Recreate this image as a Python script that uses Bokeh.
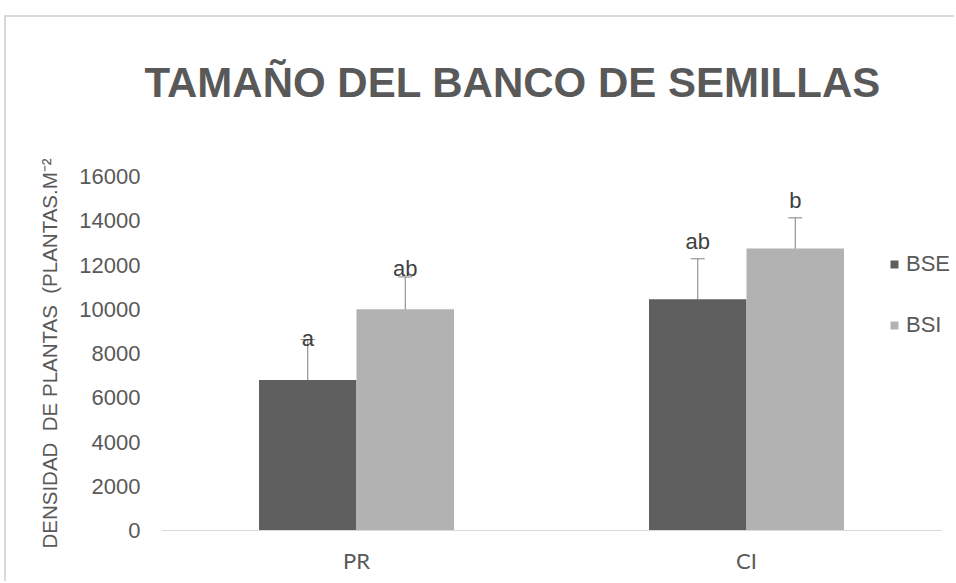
from bokeh.plotting import figure
from bokeh.models import (ColumnDataSource, FactorRange, Range1d, Whisker, TeeHead,
                          FixedTicker, NumeralTickFormatter, Legend, Title)
from bokeh.transform import dodge
from bokeh.core.properties import value
from bokeh.embed import file_html
from bokeh.resources import INLINE

# --- data -------------------------------------------------------------
categories = ["PR", "CI"]
series_names = ["BSE", "BSI"]
bse_mean = [6800, 10450]
bsi_mean = [10000, 12750]
bse_err = [1830, 1830]
bsi_err = [1460, 1380]
bse_letters = ["a", "ab"]
bsi_letters = ["ab", "b"]
y_ticks = [0, 2000, 4000, 6000, 8000, 10000, 12000, 14000, 16000]

TITLE = "TAMAÑO DEL BANCO DE SEMILLAS"
Y_LABEL = "DENSIDAD\u00a0 DE PLANTAS\u00a0 (PLANTAS.M\u207b\u00b2"

# --- styling ----------------------------------------------------------
DARK = "#5f5f5f"
LIGHT = "#b2b2b2"
TEXT = "#595959"
ERR = "#7f7f7f"
FONT = "Liberation Sans"

src = ColumnDataSource(dict(
    cat=categories,
    bse=bse_mean,
    bsi=bsi_mean,
    bse_hi=[m + e for m, e in zip(bse_mean, bse_err)],
    bse_lo=[m - e for m, e in zip(bse_mean, bse_err)],
    bsi_hi=[m + e for m, e in zip(bsi_mean, bsi_err)],
    bsi_lo=[m - e for m, e in zip(bsi_mean, bsi_err)],
    bse_txt=bse_letters,
    bsi_txt=bsi_letters,
    # pixel nudges of the significance letters (screen units, + is down)
    bse_dy=[-1, -17],
    bsi_dy=[-8, -17],
))

# a little padding on both sides of the categories so the legend fits
# inside the frame at the right-hand edge
PAD_PX = 15
CAT_PX = 390
p = figure(
    width=950, height=566,
    x_range=FactorRange(factors=categories, range_padding=PAD_PX / CAT_PX,
                        range_padding_units="absolute"),
    y_range=Range1d(0, 16000),
    output_backend="svg", toolbar_location=None,
    min_border_left=140, min_border_right=0,
    min_border_top=159, min_border_bottom=53,
    background_fill_color="white", border_fill_color="white",
    outline_line_color=None,
)
p.margin = (15, 0, 0, 4)
p.styles = {"border-top": "2px solid #d9d9d9", "border-left": "2px solid #d9d9d9"}

# blank strip between the plot area and the title
p.add_layout(Title(text=" ", text_font_size="1px", standoff=40), "above")

# title
p.title.text = TITLE
p.title.text_font = FONT
p.title.text_font_size = "42px"
p.title.text_font_style = "bold"
p.title.text_color = TEXT
p.title.align = "left"
p.title.offset = -2
p.title.standoff = 56

# bars
r_bse = p.vbar(x=dodge("cat", -0.125, range=p.x_range), top="bse", width=0.25,
               source=src, fill_color=DARK, line_color=None)
r_bsi = p.vbar(x=dodge("cat", 0.125, range=p.x_range), top="bsi", width=0.25,
               source=src, fill_color=LIGHT, line_color=None)

# error bars
for off, hi, lo in [(-0.125, "bse_hi", "bse_lo"), (0.125, "bsi_hi", "bsi_lo")]:
    w = Whisker(source=src, base=dodge("cat", off, range=p.x_range), upper=hi, lower=lo,
                line_color=ERR, line_width=1,
                upper_head=TeeHead(size=14, line_color=ERR, line_width=1),
                lower_head=TeeHead(size=14, line_color=ERR, line_width=1))
    p.add_layout(w)

# significance letters
for off, hi, txt, dy in [(-0.125, "bse_hi", "bse_txt", "bse_dy"),
                         (0.125, "bsi_hi", "bsi_txt", "bsi_dy")]:
    p.text(x=dodge("cat", off, range=p.x_range), y=hi, text=txt, y_offset=dy,
           source=src, text_align="center", text_baseline="alphabetic",
           text_font=value(FONT), text_font_size="22px", text_color="#404040")

# axes
p.xgrid.grid_line_color = None
p.ygrid.grid_line_color = None

p.yaxis.ticker = FixedTicker(ticks=y_ticks)
p.yaxis.formatter = NumeralTickFormatter(format="0")
p.yaxis.axis_line_color = None
p.yaxis.major_tick_line_color = None
p.yaxis.minor_tick_line_color = None
p.yaxis.major_tick_out = 0
p.yaxis.minor_tick_out = 0
p.yaxis.major_label_standoff = 6
p.yaxis.major_label_text_font = FONT
p.yaxis.major_label_text_font_size = "22px"
p.yaxis.major_label_text_color = TEXT
p.yaxis.axis_label = Y_LABEL
p.yaxis.axis_label_text_font = FONT
p.yaxis.axis_label_text_font_size = "20.5px"
p.yaxis.axis_label_text_font_style = "normal"
p.yaxis.axis_label_text_color = TEXT
p.yaxis.axis_label_standoff = 15

p.xaxis.bounds = (0, len(categories))
p.xaxis.axis_line_color = "#d9d9d9"
p.xaxis.major_tick_line_color = None
p.xaxis.minor_tick_line_color = None
p.xaxis.major_tick_out = 0
p.xaxis.minor_tick_out = 0
p.xaxis.major_label_standoff = 16
p.xaxis.major_label_text_font = "Lato"
p.xaxis.major_label_text_font_size = "22px"
p.xaxis.major_label_text_color = TEXT

# legend
legend = Legend(items=[("BSE", [r_bse]), ("BSI", [r_bsi])],
                location=(743, 192), orientation="vertical",
                glyph_width=10, glyph_height=10, label_height=22,
                label_standoff=7, spacing=35, padding=0, margin=0,
                label_text_font=FONT, label_text_font_size="22px",
                label_text_color=TEXT, border_line_color=None,
                background_fill_alpha=0)
p.add_layout(legend)

open("out.html", "w").write(file_html(p, INLINE))
